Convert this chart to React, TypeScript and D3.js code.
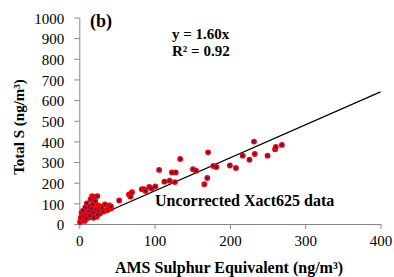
import { useEffect, useRef } from 'react';
import { select, scaleLinear, axisBottom, axisLeft } from 'd3';

// AMS sulphur equivalent (ng/m3) vs Xact625 total S (ng/m3)
const amsS = [
  1, 2, 3, 4, 5, 6, 7, 8, 9, 10, 11, 12, 13, 14, 15, 16, 17, 18, 19, 20, 21, 22, 23, 24, 25,
  26, 27, 28, 29, 30, 32, 34, 36, 38, 40, 42, 42, 9, 14, 19, 24,
  53, 66, 68, 70, 83, 86, 88, 93, 96, 101, 106, 113, 120, 123, 127, 128, 134, 151, 155,
  166, 170, 171, 178, 182, 200, 208, 217, 226, 232, 233, 250, 260, 261, 269,
];
const totalS = [
  10, 30, 55, 20, 65, 40, 15, 80, 50, 100, 30, 60, 85, 45, 120, 75, 135, 95, 55, 130, 110, 70, 35, 135, 90,
  65, 50, 85, 75, 80, 60, 95, 65, 70, 90, 75, 85, 25, 40, 30, 45,
  114, 143, 133, 154, 168, 168, 160, 180, 172, 182, 262, 205, 210, 250, 203, 250, 315, 265, 258,
  193, 223, 347, 281, 276, 283, 271, 331, 311, 399, 339, 331, 362, 373, 383,
];
const xTicks = [0, 100, 200, 300, 400];
const yTicks = [0, 100, 200, 300, 400, 500, 600, 700, 800, 900, 1000];
const slope = 1.6;

export default function App() {
  const svgRef = useRef<SVGSVGElement | null>(null);

  useEffect(() => {
    if (!svgRef.current) return;
    const svg = select(svgRef.current);
    svg.selectAll('*').remove();

    const x = scaleLinear().domain([0, 400]).range([79.3, 380.5]);
    const y = scaleLinear().domain([0, 1000]).range([224, 17.5]);
    const axisColor = '#868686';
    const font = 'Liberation Serif, Times New Roman, serif';

    const xAxis = svg
      .append('g')
      .attr('transform', `translate(0,${y(0)})`)
      .call(
        axisBottom(x).tickValues(xTicks).tickFormat((v) => String(v))
          .tickSize(5).tickSizeOuter(0).tickPadding(6)
      );
    const yAxis = svg
      .append('g')
      .attr('transform', `translate(${x(0)},0)`)
      .call(
        axisLeft(y).tickValues(yTicks).tickFormat((v) => String(v))
          .tickSize(5).tickSizeOuter(0).tickPadding(10)
      );
    [xAxis, yAxis].forEach((g) => {
      g.attr('font-family', font).attr('font-size', 15);
      g.select('.domain').attr('stroke', axisColor);
      g.selectAll('line').attr('stroke', axisColor);
      g.selectAll('text').attr('fill', '#000').attr('font-family', font);
    });
    yAxis.selectAll('text').attr('dy', '0.38em');

    // fit line y = 1.60x
    svg
      .append('line')
      .attr('x1', x(0))
      .attr('y1', y(0))
      .attr('x2', x(400))
      .attr('y2', y(400 * slope))
      .attr('stroke', '#000')
      .attr('stroke-width', 1.2);

    svg
      .append('g')
      .selectAll('circle')
      .data(amsS.map((v, i) => [v, totalS[i]]))
      .join('circle')
      .attr('cx', (d) => x(d[0]))
      .attr('cy', (d) => y(d[1]))
      .attr('r', 2.2)
      .attr('fill', '#1f2a6e')
      .attr('stroke', '#ff0000')
      .attr('stroke-width', 1.5);

    const label = (tx: number, ty: number, size: number, txt: string, anchor = 'start') =>
      svg
        .append('text')
        .attr('x', tx)
        .attr('y', ty)
        .attr('text-anchor', anchor)
        .attr('font-family', font)
        .attr('font-weight', 'bold')
        .attr('font-size', size)
        .text(txt);

    label(90, 27, 18, '(b)');
    label(172, 38.5, 15, 'y = 1.60x');
    label(172, 56, 15, 'R² = 0.92');
    label(155, 206, 16, 'Uncorrected Xact625 data');
    label(229, 272.5, 16, 'AMS Sulphur Equivalent (ng/m³)', 'middle');
    label(0, 0, 15, 'Total S (ng/m³)', 'middle').attr('transform', 'translate(24,127) rotate(-90)');
  }, []);

  return (
    <svg
      ref={svgRef}
      width={394}
      height={277}
      style={{ position: 'fixed', left: 0, top: 0, background: '#fff' }}
    />
  );
}
